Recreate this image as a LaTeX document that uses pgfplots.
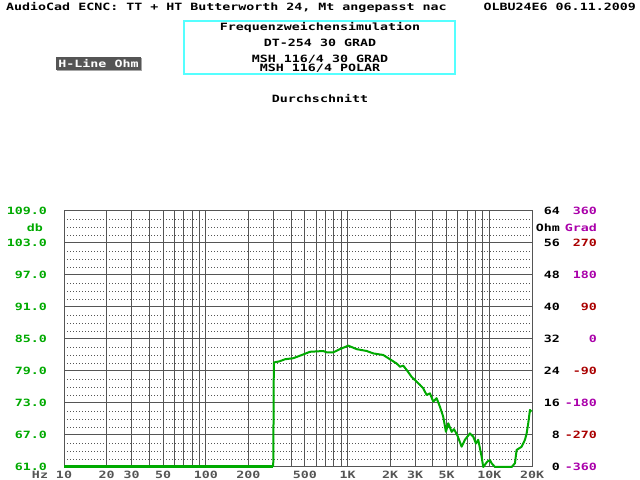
\documentclass[border=0pt]{standalone}
\usepackage{pgfplots}
\pgfplotsset{compat=1.18}
\usepackage{fontspec}
\newfontfamily\pix[FakeStretch=1.33]{DejaVu Sans Mono}
\definecolor{vgagreen}{HTML}{00AA00}
\definecolor{gridgray}{HTML}{555555}
\definecolor{vgamag}{HTML}{AA00AA}
\definecolor{vgared}{HTML}{AA0000}
\definecolor{vgacyan}{HTML}{55FFFF}
\tikzset{pix/.style={font=\pix\bfseries\fontsize{10bp}{12bp}\selectfont, inner sep=0pt, text height=7.3bp, text depth=0pt}}
\begin{document}
\begin{tikzpicture}[x=1bp,y=1bp]
\fill[white] (0,0) rectangle (640,480);
\useasboundingbox (0,0) rectangle (640,480);
\begin{axis}[
  at={(64bp,13bp)}, anchor=south west,
  width=468bp, height=256bp, scale only axis,
  xmode=log, xmin=10, xmax=20000, ymin=61, ymax=109,
  axis line style={draw=gridgray, line width=1bp},
  xtick={10,20,30,40,50,60,70,80,90,100,200,300,400,500,600,700,800,900,1000,2000,3000,4000,5000,6000,7000,8000,9000,10000,20000},
  xticklabels={10,20,30,,50,,,,,100,200,,,500,,,,,1K,2K,3K,,5K,,,,,10K,20K},
  ytick={61,67,73,79,85,91,97,103,109},
  yticklabels={61.0,67.0,73.0,79.0,85.0,91.0,97.0,103.0,109.0},
  minor ytick={62.5,64,65.5,68.5,70,71.5,74.5,76,77.5,80.5,82,83.5,86.5,88,89.5,92.5,94,95.5,98.5,100,101.5,104.5,106,107.5},
  xmajorgrids, ymajorgrids, yminorgrids,
  major grid style={draw=gridgray, line width=1bp},
  minor grid style={draw=gridgray, line width=0.8bp, dash pattern=on 1bp off 2bp},
  major tick length=0pt, minor tick length=0pt,
  tick style={draw=none},
  xticklabel style={pix, text=gridgray, anchor=center, yshift=-8bp},
  yticklabel style={pix, text=vgagreen, anchor=east, xshift=-17bp, yshift=0.5bp},
  clip=false,
]
\addplot[vgagreen, line width=3bp] coordinates {(10,61) (299,61)};
\addplot[vgagreen, line width=2bp, line join=round] coordinates {
(299,61) (300,66.4) (302,80.6) (330,80.8) (362,81.2) (414,81.4) (487,82.1) (543,82.6)
(674,82.75) (712,82.5) (793,82.5) (884,83.1) (1012,83.75) (1159,83.1) (1364,82.75)
(1518,82.3) (1786,82.0) (1991,81.2) (2220,80.4) (2342,79.8) (2471,80.0) (2611,79.2)
(2831,77.9) (3072,77.0) (3241,76.4) (3418,75.75) (3613,74.5) (3812,74.8) (4021,73.25)
(4249,73.9) (4483,72.3) (4731,70.4) (4942,67.6) (5130,69.2) (5422,67.6) (5628,68.1)
(5937,67.0) (6377,64.8) (6728,66.1) (7297,67.3) (7700,66.7) (8043,65.4) (8350,66.1)
(8826,62.9) (9058,61.0) (9666,62.0) (10098,62.3) (10380,61.7) (10952,61.0) (14367,61.0)
(15155,61.7) (15580,64.2) (16898,64.8) (17832,66.1) (18330,67.3) (18810,69.2)
(19340,71.7) (19880,71.4)};
\end{axis}
% right-hand scales
\foreach \k in {0,...,8} {
  \pgfmathtruncatemacro{\ohm}{64-8*\k}
  \pgfmathtruncatemacro{\grad}{360-90*\k}
  \pgfmathtruncatemacro{\yy}{269-32*\k}
  \node[pix, anchor=east, text=black] at (560,\yy) {\ohm};
  \ifodd\k
    \node[pix, anchor=east, text=vgared] at (597,\yy) {\grad};
  \else
    \node[pix, anchor=east, text=vgamag] at (597,\yy) {\grad};
  \fi
}
\node[pix, anchor=east, text=black] at (560,252) {Ohm};
\node[pix, anchor=east, text=vgamag] at (597,252) {Grad};
\node[pix, anchor=east, text=vgagreen] at (43,252) {db};
\node[pix, text=gridgray] at (40,5) {Hz};
% header
\node[pix, anchor=west] at (6,473) {AudioCad ECNC: TT + HT Butterworth 24, Mt angepasst nac};
\node[pix, anchor=east] at (636,473) {OLBU24E6 06.11.2009};
\draw[vgacyan, line width=2bp] (184,406) rectangle (455,459);
\node[pix] at (320,453) {Frequenzweichensimulation};
\node[pix] at (320,437) {DT-254 30 GRAD};
\node[pix] at (320,421) {MSH 116/4 30 GRAD};
\node[pix] at (320,412) {MSH 116/4 POLAR};
\fill[gray!70] (57,409) rectangle (142,422);
\fill[gridgray] (56,410) rectangle (141,423);
\node[pix, text=white] at (98.5,416.5) {H-Line Ohm};
\node[pix] at (320,381) {Durchschnitt};
\end{tikzpicture}
\end{document}
